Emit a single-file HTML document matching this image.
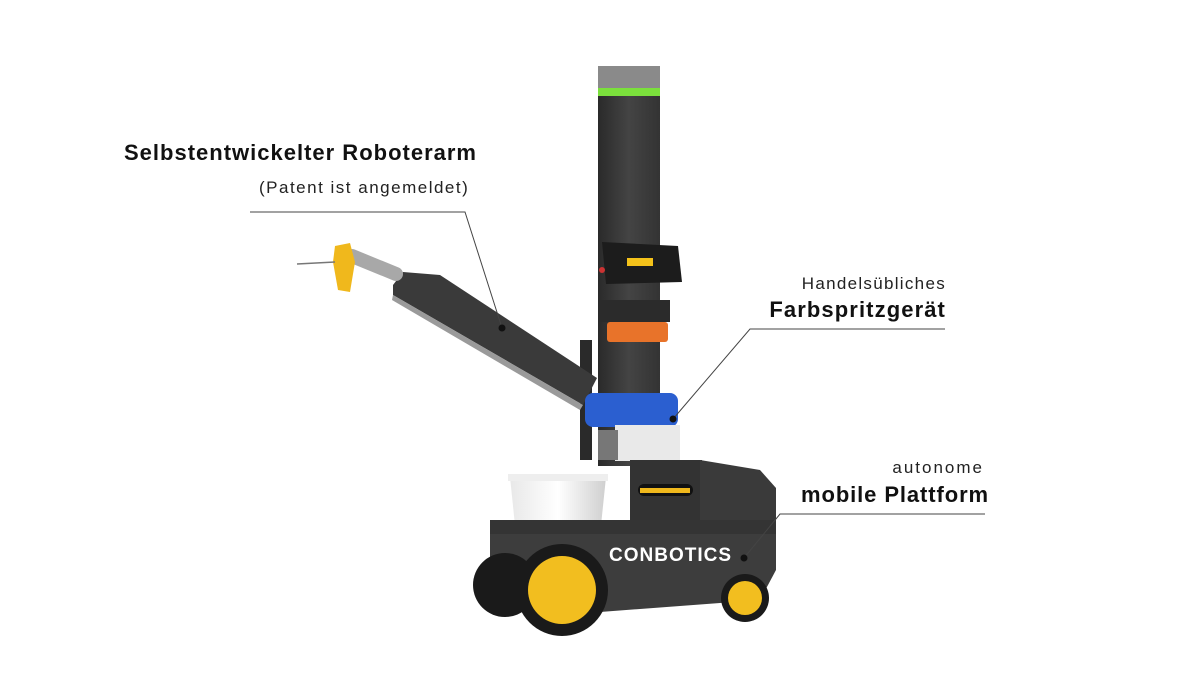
<!DOCTYPE html>
<html><head><meta charset="utf-8"><style>
html,body{margin:0;padding:0;background:#fff;}
body{width:1200px;height:679px;position:relative;overflow:hidden;font-family:"Liberation Sans",sans-serif;color:#111;}
.t{position:absolute;white-space:nowrap;}
</style></head><body>
<svg width="1200" height="679" style="position:absolute;left:0;top:0">
<defs>
<linearGradient id="col" x1="0" x2="1"><stop offset="0" stop-color="#2a2a2a"/><stop offset="0.5" stop-color="#444"/><stop offset="1" stop-color="#333"/></linearGradient>
<linearGradient id="bk" x1="0" x2="1"><stop offset="0" stop-color="#e8e8e8"/><stop offset="0.5" stop-color="#fff"/><stop offset="1" stop-color="#cfcfcf"/></linearGradient>
</defs>
<!-- column -->
<rect x="598" y="66" width="62" height="400" fill="url(#col)"/>
<rect x="598" y="66" width="62" height="22" fill="#8a8a8a"/>
<rect x="598" y="88" width="62" height="8" fill="#7be03c"/>
<rect x="580" y="340" width="12" height="120" fill="#2a2a2a"/>
<!-- screen -->
<polygon points="602,242 678,246 682,282 606,284" fill="#1c1c1c"/>
<rect x="627" y="258" width="26" height="8" fill="#f4c21a"/>
<circle cx="602" cy="270" r="3" fill="#c33"/>
<rect x="600" y="300" width="70" height="22" fill="#2b2b2b"/>
<rect x="607" y="322" width="61" height="20" rx="3" fill="#e8732a"/>
<!-- arm -->
<polygon points="393,285 403,272 440,275 597,378 583,405 393,295" fill="#3a3a3a"/>
<polygon points="393,295 583,405 580,410 392,300" fill="#9a9a9a"/>
<line x1="352" y1="256" x2="396" y2="274" stroke="#a8a8a8" stroke-width="14" stroke-linecap="round"/>
<polygon points="335,246 350,243 355,262 350,292 338,290 333,262" fill="#f0b81c"/>
<line x1="297" y1="264" x2="335" y2="262" stroke="#777" stroke-width="1.5"/>
<!-- pump -->
<rect x="585" y="393" width="93" height="34" rx="8" fill="#2b5fd0"/>
<rect x="615" y="425" width="65" height="36" fill="#e9e9e9"/>
<rect x="598" y="430" width="20" height="30" fill="#777"/>
<!-- bucket -->
<polygon points="510,477 606,477 600,535 516,535" fill="url(#bk)"/>
<rect x="508" y="474" width="100" height="7" fill="#eee"/>
<!-- body -->
<rect x="630" y="460" width="72" height="66" fill="#333"/>
<polygon points="700,460 760,470 776,488 776,525 700,525" fill="#3a3a3a"/>
<rect x="638" y="484" width="55" height="12" rx="6" fill="#111"/>
<rect x="640" y="488" width="50" height="5" fill="#f0b81c"/>
<polygon points="490,520 776,520 776,570 760,600 600,612 520,610 490,590" fill="#3d3d3d"/>
<rect x="490" y="520" width="286" height="14" fill="#343434"/>
<!-- wheels -->
<circle cx="505" cy="585" r="32" fill="#1a1a1a"/>
<circle cx="562" cy="590" r="46" fill="#1a1a1a"/>
<circle cx="562" cy="590" r="34" fill="#f2be1f"/>
<circle cx="745" cy="598" r="24" fill="#1a1a1a"/>
<circle cx="745" cy="598" r="17" fill="#f2be1f"/>
<!-- leader lines -->
<g stroke="#444" stroke-width="1" fill="none">
<polyline points="250,212 465,212 502,328"/>
<polyline points="945,329 750,329 673,419"/>
<polyline points="985,514 780,514 744,558"/>
</g>
<circle cx="502" cy="328" r="3.5" fill="#111"/>
<circle cx="673" cy="419" r="3.5" fill="#111"/>
<circle cx="744" cy="558" r="3.5" fill="#111"/>
<text x="609" y="561" font-family="Liberation Sans,sans-serif" font-size="19" font-weight="bold" fill="#fff" letter-spacing="1">CONBOTICS</text>
</svg>
<div class="t" style="left:124px;top:140px;font-size:22px;font-weight:bold;letter-spacing:1px;">Selbstentwickelter Roboterarm</div>
<div class="t" style="left:259px;top:178px;font-size:17px;color:#222;letter-spacing:1.5px;">(Patent ist angemeldet)</div>
<div class="t" style="right:254px;top:274px;font-size:17px;color:#222;letter-spacing:1.3px;">Handelsübliches</div>
<div class="t" style="right:254px;top:297px;font-size:22px;font-weight:bold;letter-spacing:1.1px;">Farbspritzgerät</div>
<div class="t" style="right:216px;top:458px;font-size:17px;color:#222;letter-spacing:2px;">autonome</div>
<div class="t" style="right:211px;top:482px;font-size:22px;font-weight:bold;letter-spacing:0.9px;">mobile Plattform</div>
</body></html>
